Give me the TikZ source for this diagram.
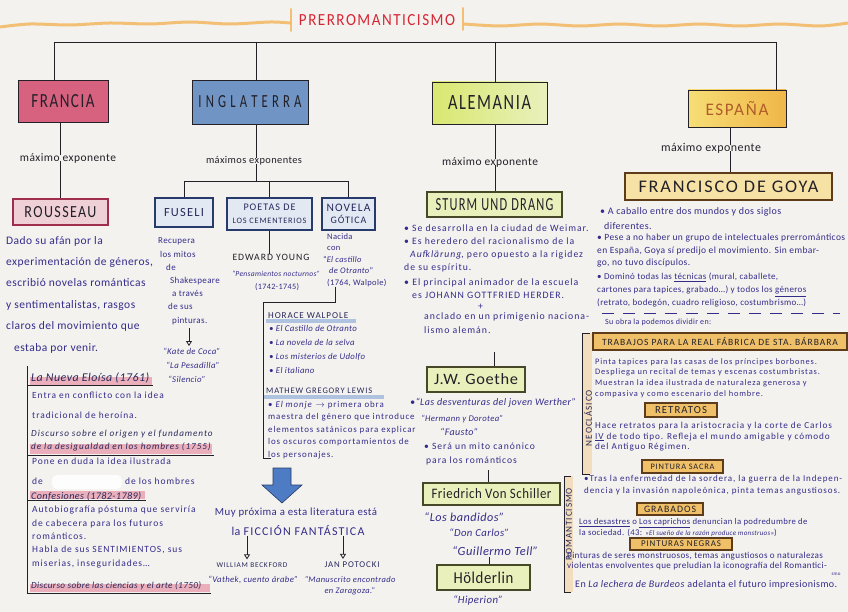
\documentclass[tikz,border=0pt]{standalone}
\usepackage{fontspec}
\usepackage{graphicx}
\setmainfont{Carlito}
\newfontfamily\capsf[LetterSpace=10]{Carlito}
\newfontfamily\handf[LetterSpace=4]{Carlito}
\newfontfamily\handw[LetterSpace=10]{Carlito}
\usetikzlibrary{arrows.meta,calc}
\newcommand{\fitw}[2]{\resizebox{#1}{!}{#2}}
\newcommand{\fitwh}[3]{\resizebox{#1}{#2}{#3}}
\newcommand{\hsz}[2]{\handf\fontsize{#1}{#2}\selectfont}
\newcommand{\hsw}[2]{\handw\fontsize{#1}{#2}\selectfont}
\definecolor{paper}{RGB}{243,242,239}
\definecolor{inkb}{RGB}{52,44,138}
\definecolor{inkk}{RGB}{35,32,40}
\definecolor{navy}{RGB}{40,40,90}
\definecolor{titred}{RGB}{214,38,52}
\definecolor{wavec}{RGB}{242,183,95}
\definecolor{frpink}{RGB}{214,98,128}
\definecolor{rspink}{RGB}{238,208,214}
\definecolor{rsbord}{RGB}{160,45,75}
\definecolor{enblue}{RGB}{112,148,196}
\definecolor{enlight}{RGB}{226,233,243}
\definecolor{enbord}{RGB}{38,58,108}
\definecolor{degreen}{RGB}{216,232,112}
\definecolor{delight}{RGB}{234,240,188}
\definecolor{debord}{RGB}{70,72,40}
\definecolor{esyel}{RGB}{246,222,118}
\definecolor{esora}{RGB}{240,182,72}
\definecolor{estext}{RGB}{176,92,42}
\definecolor{goyaf}{RGB}{247,226,165}
\definecolor{brownb}{RGB}{95,60,25}
\definecolor{secor}{RGB}{240,192,105}
\definecolor{stripc}{RGB}{242,222,190}
\definecolor{hlpink}{RGB}{228,120,145}
\definecolor{hlblue}{RGB}{130,165,215}
\definecolor{arrowb}{RGB}{78,124,196}
\begin{document}
\begin{tikzpicture}[x=1pt,y=-1pt,
 con/.style={draw=inkk, line width=0.8pt},
 cbox/.style={draw=inkk, line width=0.8pt, inner sep=0pt, text=inkk},
 rbox/.style={draw=rsbord, fill=rspink, line width=1.2pt, inner sep=0pt, text=inkk},
 ebox/.style={draw=enbord, fill=enlight, line width=1.3pt, inner sep=0pt, text=navy, align=center},
 gbox/.style={draw=debord, fill=delight, line width=1.1pt, inner sep=0pt, text=inkk},
 obox/.style={draw=brownb, fill=goyaf, line width=1.1pt, inner sep=0pt, text=inkk},
 sbox/.style={draw=brownb, fill=secor, line width=1.1pt, inner sep=0pt, text=inkk},
 ink/.style={text=inkb, inner sep=0pt},
 dark/.style={text=navy, inner sep=0pt},
 mx/.style={text=inkk, inner sep=0pt},
 para/.style={ink, anchor=north west, align=left},
 hl/.style={fill=hlpink, opacity=0.55},
 hlb/.style={fill=hlblue, opacity=0.6},
 wave/.style={draw=wavec, line width=3pt, line cap=round, opacity=0.85},
 openarrow/.style={con, -{Triangle[open,length=5pt,width=6pt]}}]
\useasboundingbox[fill=paper] (0,0) rectangle (848,612);

% title
\draw[wave] plot[smooth] coordinates {(0,27)(30,24)(70,25)(110,23)(150,24)(190,22)(230,24)(270,22)(290,23)};
\draw[wave] plot[smooth] coordinates {(464,24)(500,26)(540,24)(580,26)(620,24)(660,26)(700,24)(740,26)(780,24)(820,26)(848,23)};
\draw[wave, line width=2pt] (291,9) -- (291,31);
\draw[wave, line width=2pt] (463,8) -- (463,30);
\node[text=titred, inner sep=0pt] (title) at (377,20) {\fitwh{156pt}{11pt}{\capsf PRERROMANTICISMO}};

% countries
\node[cbox, fill=frpink, minimum width=90pt, minimum height=42pt] (francia) at (63,101) {\fitwh{63pt}{13pt}{\capsf FRANCIA}};
\node[cbox, fill=enblue, minimum width=116pt, minimum height=44pt] (inglaterra) at (250,102) {\fitwh{103pt}{12pt}{\capsf I N G L A T E R R A}};
\node[cbox, left color=degreen, right color=delight, minimum width=115pt, minimum height=42pt] (alemania) at (489.5,103) {\fitwh{83pt}{14pt}{\capsf ALEMANIA}};
\node[cbox, left color=esyel, right color=esora, minimum width=98pt, minimum height=37pt, text=estext] (espana) at (737,108.5) {\fitwh{63pt}{14pt}{\capsf ESPAÑA}};

\coordinate (tl) at (54,42);
\coordinate (ti) at (256,42);
\coordinate (ta) at (495,42);
\coordinate (tr) at (776,42);
\draw[con] (tl) -- (tr);
\draw[con] (tl) -- (tl |- francia.north);
\draw[con] (ti) -- (ti |- inglaterra.north);
\draw[con] (ta) -- (ta |- alemania.north);
\draw[con] (tr) -- (tr |- espana.north);

% ---------------- FRANCIA
\node[mx] (mxf) at (68,158) {\fitw{96pt}{\handf máximo exponente}};
\node[rbox, minimum width=95pt, minimum height=26pt] (rousseau) at (60.5,212) {\fitwh{72pt}{11pt}{\capsf ROUSSEAU}};
\draw[con] (rousseau.north |- francia.south) -- ([yshift=-2pt]rousseau.north |- mxf.north);
\draw[con] ([yshift=2pt]rousseau.north |- mxf.south) -- (rousseau.north);
\node[para, font=\hsz{11.5}{21.4}] (rtxt) at (6,236) {Dado su afán por la\\experimentación de géneros,\\escribió novelas románticas\\y sentimentalistas, rasgos\\claros del movimiento que\\\hspace*{8pt}estaba por venir.};

\coordinate (lb1) at (27,366);
\coordinate (lb2) at (27,593);
\draw[con] (lb1) -- (lb2);
\fill[hl] (30,377) rectangle (152,385);
\fill[hl] (30,444) rectangle (212,454);
\fill[hl] (30,491) rectangle (145,499);
\fill[hl] (30,584) rectangle (210,592);
\draw[con] (lb1 |- 0,385) -- (153,385);
\draw[con] (lb1 |- 0,455) -- (214,455);
\draw[con] (lb1 |- 0,500) -- (146,500);
\draw[con] (lb1 |- 0,593) -- (211,593);
\node[dark, anchor=west] (eloisa) at (31,378) {\fitw{118pt}{\handf\itshape La Nueva Eloísa (1761)}};
\node[para, font=\hsw{9.4}{20}] (eltxt) at (32,392) {Entra en conflicto con la idea\\tradicional de heroína.};
\node[para, text=navy, font=\hsw{9.2}{13}\itshape] (disc1) at (31,430) {Discurso sobre el origen y el fundamento\\de la desigualdad en los hombres (1755)};
\node[para, font=\hsw{9.5}{20}] (pone) at (32,458) {Pone en duda la idea ilustrada\\de \hspace*{76pt} de los hombres};
\fill[white, opacity=0.9, rounded corners=5pt] (52,475) rectangle (122,489);
\node[dark, anchor=west] (conf) at (31,496) {\fitw{110pt}{\handf\itshape Confesiones (1782-1789)}};
\node[para, font=\hsw{9.5}{13.3}] (conftxt) at (32,506) {Autobiografía póstuma que serviría\\de cabecera para los futuros\\románticos.\\Habla de sus SENTIMIENTOS, sus\\miserias, inseguridades\dots};
\node[dark, anchor=west] (cienc) at (31,586) {\fitw{170pt}{\handf\itshape Discurso sobre las ciencias y el arte (1750)}};

% ---------------- INGLATERRA
\node[mx] (mxi) at (254,161) {\fitw{96pt}{\handf máximos exponentes}};
\coordinate (ih) at (256,181);
\draw[con] (inglaterra.south -| ti) -- ([yshift=-2pt]mxi.north -| ti);
\draw[con] ([yshift=2pt]mxi.south -| ti) -- (ih);
\node[ebox, minimum width=58pt, minimum height=29pt] (fuseli) at (184,212.5) {\fitw{40pt}{\capsf FUSELI}};
\node[ebox, minimum width=85pt, minimum height=32pt] (poetas) at (269.5,214) {\fitw{52pt}{\capsf POETAS DE}\\[1pt]\fitw{74pt}{\capsf LOS CEMENTERIOS}};
\node[ebox, minimum width=53pt, minimum height=32pt] (novela) at (348.5,214) {\fitw{44pt}{\capsf NOVELA}\\\fitw{36pt}{\capsf GÓTICA}};
\draw[con] (ih -| fuseli.north) -- (ih -| novela.north);
\draw[con] (ih -| fuseli.north) -- (fuseli.north);
\draw[con] (ih -| poetas.north) -- (poetas.north);
\draw[con] (ih -| novela.north) -- (novela.north);

\node[para, font=\hsz{9}{13.2}] (fustxt) at (158,238) {Recupera\\\hspace*{2pt}los mitos\\\hspace*{8pt}de\\\hspace*{12pt}Shakespeare\\\hspace*{14pt}a través\\\hspace*{10pt}de sus\\\hspace*{14pt}pinturas.};
\node[para, font=\hsz{8.8}{14}\itshape] (kate) at (163,348) {“Kate de Coca”\\\hspace*{3pt}“La Pesadilla”\\\hspace*{5pt}“Silencio”};
\draw[openarrow, shorten <=3pt, shorten >=2pt] (fustxt.south) -- (fustxt.south |- kate.north);

\node[mx] (young) at (271,257) {\fitw{77pt}{\capsf EDWARD YOUNG}};
\draw[con] (poetas.south) -- (poetas.south |- young.north);
\node[ink] (pens) at (276,274) {\fitw{88pt}{\handf\itshape “Pensamientos nocturnos”}};
\node[ink] (yrs) at (277,287) {\fitw{44pt}{\handf (1742-1745)}};

\node[para, font=\hsz{8.5}{11.5}] (novtxt) at (327,233) {Nacida\\con\\\hspace*{-4pt}“\textit{El castillo}\\\hspace*{2pt}\textit{de Otranto}”\\(1764, Walpole)};
\coordinate (nv1) at (335,302);
\coordinate (wl) at (263,302);
\coordinate (wb) at (263,458);
\coordinate (wb2) at (271,458);
\draw[con] (novtxt.south -| nv1) -- (nv1) -- (wl) -- (wb) -- (wb2);

\fill[hlb] (266,319) rectangle (356,323);
\node[dark, anchor=west] (walpole) at (268,316) {\fitw{80pt}{\capsf HORACE WALPOLE}};
\node[para, font=\hsz{8.8}{14}\itshape] (wlist) at (269,325) {• El Castillo de Otranto\\• La novela de la selva\\• Los misterios de Udolfo\\• El italiano};
\fill[hlb] (264,395) rectangle (384,399);
\node[dark, anchor=west] (lewis) at (266,391) {\fitw{106pt}{\capsf MATHEW GREGORY LEWIS}};
\node[para, font=\hsw{8.9}{12.5}] (ltxt) at (268,401) {• \textit{El monje} $\rightarrow$ primera obra\\maestra del género que introduce\\elementos satánicos para explicar\\los oscuros comportamientos de\\los personajes.};

\filldraw[draw=enbord, fill=arrowb, line width=0.6pt] (273,468) -- (291,468) -- (291,485) -- (302,485) -- (282,503) -- (262,485) -- (273,485) -- cycle;
\node[ink] (muy) at (296,513) {\fitw{162pt}{\handf Muy próxima a esta literatura está}};
\node[ink] (ficcion) at (298,531) {\fitw{133pt}{\handf la {\capsf FICCIÓN FANTÁSTICA}}};
\node[dark] (beckford) at (252,565) {\fitw{71pt}{\capsf WILLIAM BECKFORD}};
\node[ink] (vathek) at (253,580) {\fitw{90pt}{\handf\itshape “Vathek, cuento árabe”}};
\node[dark] (potocki) at (352,565) {\fitw{55pt}{\capsf JAN POTOCKI}};
\node[ink, align=center, font=\hsz{8.5}{11}\itshape] (manus) at (350,586) {“Manuscrito encontrado\\en Zaragoza.”};
\draw[openarrow, shorten >=3pt] ([xshift=-5pt]beckford.north |- ficcion.south) -- ([xshift=-5pt]beckford.north);
\draw[openarrow, shorten >=3pt] ([xshift=-9pt]potocki.north |- ficcion.south) -- ([xshift=-9pt]potocki.north);

% ---------------- ALEMANIA
\node[mx] (mxa) at (490,162) {\fitw{96pt}{\handf máximo exponente}};
\draw[con] (alemania.south -| ta) -- ([yshift=-2pt]mxa.north -| ta);
\node[gbox, minimum width=135pt, minimum height=25pt] (sturm) at (494.5,204.5) {\fitwh{118pt}{12pt}{\capsf STURM UND DRANG}};
\draw[con] ([yshift=2pt]mxa.south -| ta) -- (sturm.north -| ta);
\node[para, font=\hsw{9.7}{12.7}] (s12) at (404,225) {• Se desarrolla en la ciudad de Weimar.\\• Es heredero del racionalismo de la\\\hspace*{6pt}\textit{Aufklärung}, pero opuesto a la rigidez\\de su espíritu.};
\node[para, font=\hsw{9.8}{13.5}] (s3) at (404,278) {• El principal animador de la escuela\\\hspace*{8pt}es JOHANN GOTTFRIED HERDER.\\[-3pt]\hspace*{74pt}+\\[-3pt]\hspace*{20pt}anclado en un primigenio naciona-\\\hspace*{20pt}lismo alemán.};
\coordinate (ga) at (494,352);
\node[gbox, minimum width=98pt, minimum height=25pt] (goethe) at (476,379.5) {\fitwh{84pt}{11pt}{\handf J.W. Goethe}};
\draw[con] (ga) -- (ga |- goethe.north);
\node[ink, anchor=west] (werther) at (410,403) {\fitw{166pt}{\handf\itshape •“Las desventuras del joven Werther”}};
\node[ink, anchor=west] (hermann) at (421,419) {\fitw{82pt}{\handf\itshape “Hermann y Dorotea”}};
\node[ink, anchor=west] (fausto) at (440,432) {\fitw{38pt}{\handf\itshape “Fausto”}};
\node[para, font=\hsw{9.6}{14}] (mito) at (424,443) {• Será un mito canónico\\\hspace*{2pt}para los románticos};
\coordinate (gs) at (488,470);
\node[gbox, minimum width=137pt, minimum height=22pt] (schiller) at (491.5,494) {\fitwh{120pt}{10pt}{\handf Friedrich Von Schiller}};
\draw[con] (gs) -- (gs |- schiller.north);
\node[ink, anchor=west] (band) at (424,517) {\fitw{80pt}{\handf\itshape “Los bandidos”}};
\node[ink, anchor=west] (carlos) at (449,533) {\fitw{60pt}{\handf\itshape “Don Carlos”}};
\node[ink, anchor=west] (tell) at (452,551) {\fitw{86pt}{\handf\itshape “Guillermo Tell”}};
\coordinate (hs) at (489,557);
\node[gbox, minimum width=93pt, minimum height=25pt] (holderlin) at (483.5,577.5) {\fitwh{60pt}{11.5pt}{\handf Hölderlin}};
\draw[con] (hs) -- (hs |- holderlin.north);
\node[ink] (hiperion) at (478,600) {\fitw{50pt}{\handf\itshape “Hiperion”}};

% ---------------- ESPAÑA
\coordinate (ex) at (730,0);
\node[mx] (mxe) at (711,148) {\fitw{100pt}{\handf máximo exponente}};
\draw[con] (espana.south -| ex) -- ([yshift=-2pt]mxe.north -| ex);
\node[obox, minimum width=207pt, minimum height=27pt] (goya) at (728.5,186.5) {\fitwh{180pt}{11.5pt}{\capsf FRANCISCO DE GOYA}};
\draw[con] ([yshift=2pt]mxe.south -| ex) -- (goya.north -| ex);
\node[para, font=\hsz{10}{15}] (g1) at (600,207) {• A caballo entre dos mundos y dos siglos\\\hspace*{4pt}diferentes.};
\node[para, font=\hsz{9.5}{12.5}] (g2) at (597,234) {• Pese a no haber un grupo de intelectuales prerrománticos\\en España, Goya sí predijo el movimiento. Sin embar-\\go, no tuvo discípulos.};
\node[para, font=\hsz{9}{13}] (g3) at (597,273) {• Dominó todas las \underline{técnicas} (mural, caballete,\\cartones para tapices, grabado\dots) y todos los \underline{géneros}\\(retrato, bodegón, cuadro religioso, costumbrismo\dots)};
\coordinate (d1) at (602,313);
\coordinate (d2) at (840,313);
\draw[con, draw=inkb, dash pattern=on 12pt off 9pt] (d1) -- (d2);
\node[ink, anchor=west] (suobra) at (605,322) {\fitw{106pt}{\handf Su obra la podemos dividir en:}};

\fill[stripc] (582,333) rectangle (592,474);
\draw[con] (590,333) -- (582,333) -- (582,474) -- (590,474);
\node[dark, rotate=90] (neo) at (588,418) {\fitw{56pt}{\capsf NEOCLÁSICO}};
\fill[stripc] (564,476) rectangle (573,592);
\draw[con] (571,476) -- (564,476) -- (564,592) -- (571,592);
\node[dark, rotate=90] (roman) at (569,524) {\fitw{72pt}{\capsf ROMANTICISMO}};

\node[sbox, minimum width=254pt, minimum height=17pt] (trab) at (720,341.5) {\fitw{236pt}{\capsf TRABAJOS PARA LA REAL FÁBRICA DE STA. BÁRBARA}};
\node[para, font=\hsw{8.4}{10.7}] (trtxt) at (595,358) {Pinta tapices para las casas de los príncipes borbones.\\Despliega un recital de temas y escenas costumbristas.\\Muestran la idea ilustrada de naturaleza generosa y\\compasiva y como escenario del hombre.};
\node[sbox, minimum width=72pt, minimum height=14pt] (retratos) at (681,410) {\fitw{52pt}{\capsf RETRATOS}};
\node[para, font=\hsw{9.2}{10.5}] (retxt) at (595,422) {Hace retratos para la aristocracia y la corte de Carlos\\\underline{IV} de todo tipo. Refleja el mundo amigable y cómodo\\del Antiguo Régimen.};
\node[sbox, minimum width=81pt, minimum height=13pt] (sacra) at (682.5,466.5) {\fitw{64pt}{\capsf PINTURA SACRA}};
\node[para, font=\hsw{9}{12.5}] (satxt) at (584,475) {•Tras la enfermedad de la sordera, la guerra de la Indepen-\\dencia y la invasión napoleónica, pinta temas angustiosos.};
\node[sbox, minimum width=66pt, minimum height=12pt] (grab) at (670,509) {\fitw{52pt}{\capsf GRABADOS}};
\node[para, font=\hsz{8.7}{9.5}] (grtxt) at (579,518) {\underline{Los desastres} o \underline{Los caprichos} denuncian la podredumbre de\\la sociedad. (43: {\fontsize{7}{8}\selectfont\itshape«El sueño de la razón produce monstruos»})};
\node[sbox, minimum width=102pt, minimum height=12pt] (negras) at (681,544) {\fitw{80pt}{\capsf PINTURAS NEGRAS}};
\node[para, font=\hsz{9.1}{10}] (netxt) at (567,552) {Pinturas de seres monstruosos, temas angustiosos o naturalezas\\violentas envolventes que preludian la iconografía del Romantici-};
\node[ink, font=\hsz{5}{6}] (smo) at (836,574) {smo};
\node[ink, anchor=west] (lechera) at (575,585) {\fitw{262pt}{\handf En \textit{La lechera de Burdeos} adelanta el futuro impresionismo.}};
\end{tikzpicture}
\end{document}
